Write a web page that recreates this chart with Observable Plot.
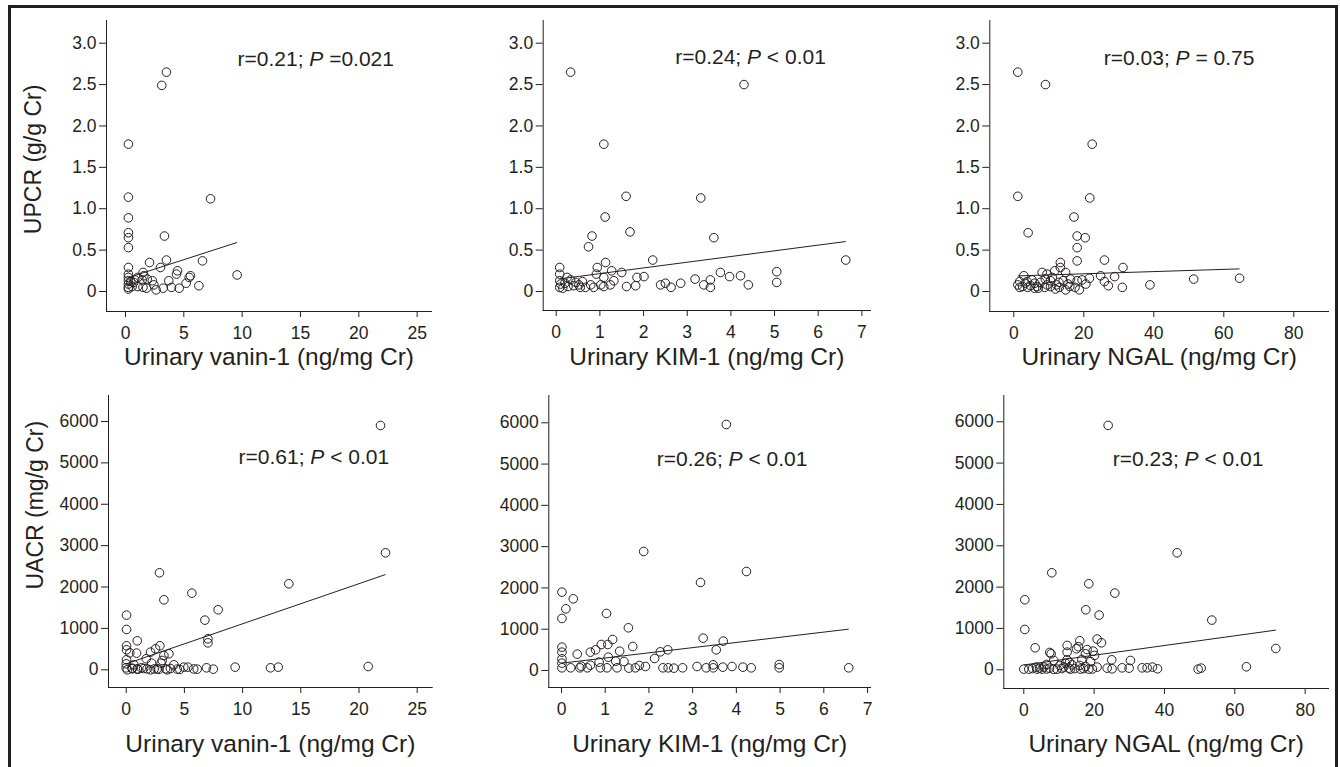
<!DOCTYPE html>
<html><head><meta charset="utf-8">
<script src="https://cdn.jsdelivr.net/npm/d3@7"></script>
<script src="https://cdn.jsdelivr.net/npm/@observablehq/plot@0.6"></script>
<style>
html,body{margin:0;padding:0;background:#fff;width:1340px;height:767px;overflow:hidden;}
#chart{position:relative;width:1340px;height:767px;}
#chart svg{position:absolute;left:0;top:0;}
#border{position:absolute;left:8px;top:5px;width:1324px;height:800px;border:3px solid #231f20;}
</style></head><body><div id="chart"><div id="border"></div></div>
<script>
// ---------- data ----------
const xLabels = ["Urinary vanin-1 (ng/mg Cr)", "Urinary KIM-1 (ng/mg Cr)", "Urinary NGAL (ng/mg Cr)"];
const yLabels = ["UPCR (g/g Cr)", "UACR (mg/g Cr)"];
const xTicksVanin = [0, 5, 10, 15, 20, 25];
const xTicksKim = [0, 1, 2, 3, 4, 5, 6, 7];
const xTicksNgal = [0, 20, 40, 60, 80];
const yTicksUpcr = [0, 0.5, 1.0, 1.5, 2.0, 2.5, 3.0];
const yTicksUacr = [0, 1000, 2000, 3000, 4000, 5000, 6000];

const annotPre = ["r=0.21; ", "r=0.24; ", "r=0.03; ", "r=0.61; ", "r=0.26; ", "r=0.23; "];
const annotPost = [" =0.021", " < 0.01", " = 0.75", " < 0.01", " < 0.01", " < 0.01"];

// regression lines (intercept, slope)
const fitA = [0.157, 0.147, 0.187, 143, 177, 117];
const fitB = [0.0455, 0.0689, 0.00134, 96.9, 125.5, 11.76];

// Panel 1: vanin-1 vs UPCR
const p1x = [3.51,3.11,0.25,0.25,7.29,0.25,0.25,0.25,0.25,3.34,0.25,2.06,3.0,3.51,6.6,4.46,4.37,9.57,1.51,1.57,0.25,0.25,0.25,0.25,0.25,0.25,1.06,1.43,1.86,0.57,1.06,1.8,2.43,2.63,3.23,3.71,3.94,4.6,5.2,5.46,5.57,6.29,0.71,0.45,0.8,2.3,1.5];
const p1y = [2.65,2.49,1.78,1.14,1.12,0.89,0.71,0.65,0.53,0.67,0.29,0.35,0.29,0.38,0.37,0.25,0.21,0.20,0.23,0.19,0.21,0.17,0.13,0.09,0.05,0.03,0.17,0.14,0.15,0.06,0.06,0.04,0.08,0.02,0.04,0.13,0.05,0.04,0.10,0.17,0.19,0.07,0.11,0.12,0.14,0.13,0.05];
// Panel 2: KIM-1 vs UPCR
const p2x = [0.33,4.30,1.09,1.60,3.31,1.12,1.69,0.82,0.74,3.61,2.21,6.63,1.13,0.08,0.94,1.27,1.50,0.08,0.92,1.09,3.76,5.05,5.05,3.97,4.22,4.40,3.18,3.53,3.38,3.53,2.85,2.50,2.39,2.63,2.01,1.85,1.82,1.61,1.32,1.24,1.09,0.86,0.67,0.52,0.60,0.33,0.25,0.40,0.27,0.08,0.08,0.10,1.02,0.79,0.15,0.45,0.20,0.55];
const p2y = [2.65,2.50,1.78,1.15,1.13,0.90,0.72,0.67,0.54,0.65,0.38,0.38,0.35,0.29,0.29,0.25,0.23,0.21,0.21,0.17,0.23,0.24,0.11,0.18,0.19,0.08,0.15,0.14,0.08,0.05,0.10,0.10,0.08,0.05,0.18,0.17,0.07,0.06,0.13,0.08,0.06,0.05,0.05,0.08,0.12,0.14,0.17,0.07,0.06,0.13,0.05,0.09,0.08,0.08,0.04,0.11,0.10,0.05];
// Panel 3: NGAL vs UPCR
const p3x = [1.14,9.05,22.4,1.14,21.7,17.2,4.1,18.1,20.4,18.1,18.1,25.9,13.3,31.2,13.3,8.1,2.86,11.7,14.8,9.5,24.8,28.8,21.6,51.4,64.5,25.9,27.0,31.0,38.9,20.6,18.7,14.8,16.0,18.1,16.2,14.1,12.2,10.5,8.8,6.7,5.2,4.8,3.3,1.7,1.14,1.7,7.6,9.0,11.0,12.9,11.9,4.0,5.9,2.5,3.8,6.0,7.0,9.5,10.5,13.0,15.5,17.5,19.5];
const p3y = [2.65,2.50,1.78,1.15,1.13,0.90,0.71,0.67,0.65,0.53,0.37,0.38,0.35,0.29,0.29,0.23,0.19,0.25,0.23,0.21,0.19,0.18,0.16,0.15,0.16,0.12,0.07,0.05,0.08,0.09,0.02,0.02,0.06,0.13,0.15,0.13,0.08,0.06,0.05,0.06,0.14,0.07,0.10,0.05,0.08,0.12,0.11,0.15,0.17,0.11,0.03,0.05,0.04,0.06,0.12,0.10,0.04,0.08,0.13,0.05,0.09,0.05,0.14];
// Panel 4: vanin-1 vs UACR
const p4x = [21.85,22.28,13.97,2.86,5.64,3.24,7.90,6.76,0.03,0.03,7.02,7.02,0.95,0.03,2.89,2.52,2.09,3.67,3.24,0.89,0.31,0.03,0.03,1.72,3.09,2.18,0.66,4.10,1.31,4.95,5.30,6.10,6.90,7.48,9.36,12.40,13.06,20.79,0.0,0.09,3.38,2.66,1.8,2.09,3.52,4.38,0.95,0.52,0.0,3.0,0.5,1.0,1.5,2.4,2.8,3.8,4.6,5.8];
const p4y = [5904,2827,2078,2344,1852,1691,1450,1200,1321,975,749,652,701,580,580,507,427,387,346,403,411,483,242,266,226,161,121,121,48,64,64,16,48,16,64,48,64,80,48,0,24,24,24,0,0,16,24,24,145,161,40,10,30,20,10,30,10,20];
// Panel 5: KIM-1 vs UACR
const p5x = [3.77,1.88,4.23,3.18,0.01,0.27,0.10,0.01,1.03,1.53,3.24,3.70,1.17,0.91,1.06,1.63,0.01,0.01,0.66,0.78,1.33,2.26,2.43,3.54,0.36,2.13,1.07,1.43,1.24,0.86,0.01,0.01,0.66,0.45,1.78,1.92,4.98,4.98,3.10,3.47,3.90,4.15,4.34,3.69,3.31,3.47,2.77,2.57,2.44,2.32,6.57,1.54,1.69,1.27,1.04,0.89,0.21,0.42,0.01,0.59];
const p5y = [5959,2883,2398,2132,1898,1736,1494,1260,1381,1034,783,711,751,630,630,581,565,444,444,501,468,452,501,501,396,291,323,218,226,202,283,178,129,105,121,97,145,65,97,137,97,81,65,81,65,65,65,57,65,65,65,57,65,65,65,65,65,65,65,65];
// Panel 6: NGAL vs UACR
const p6x = [23.98,43.6,7.96,18.48,25.88,0.28,17.63,21.42,53.46,0.28,20.85,22.09,15.92,12.32,14.98,3.22,71.66,7.39,7.77,12.32,17.54,19.72,20.1,8.53,12.32,10.24,25.0,30.33,20.85,23.7,25.1,27.96,29.95,33.65,35.07,36.59,38.0,49.57,50.43,63.3,0,1.42,3.79,5.21,7.30,9.48,13.27,16.11,18.48,15.92,17.54,13.74,11.85,3.6,5.69,11.37,2.5,4.5,6.5,8.5,10.8,12.8,14.5,17.0,19.5,15.5,18.0,16.5,13.0,19.0,6.5];
const p6y = [5912,2831,2347,2081,1855,1694,1452,1323,1202,976,742,653,702,589,508,532,516,419,387,427,387,452,347,226,242,105,242,226,65,40,24,48,40,48,48,65,24,16,40,73,16,16,16,16,40,16,16,16,16,105,81,121,161,65,65,65,30,40,20,10,30,40,30,30,20,560,490,250,180,200,130];

// ---------- layout / style ----------
const W = 1340, H = 767;
const FONT = "'Liberation Sans', Arial, Helvetica, sans-serif";
const INK = "#231f20";
const fmtUpcr = d => d === 0 ? "0" : d.toFixed(1);
const fmtUacr = d3.format("d");

const panels = [
  {xs:p1x, ys:p1y, frame:[106,431,20,311], xDomain:[-1.628,26.23], yDomain:[-0.2416,3.274], xTicks:xTicksVanin, yTicks:yTicksUpcr, yFmt:fmtUpcr, xLabel:xLabels[0], yLabel:yLabels[0], xLabelDy:46, yLabelDx:-72.7, yLabelDy:-6.6, ann:[131,39]},
  {xs:p2x, ys:p2y, frame:[542.7,870,20,310], xDomain:[-0.298,7.197], yDomain:[-0.2296,3.274], xTicks:xTicksKim, yTicks:yTicksUpcr, yFmt:fmtUpcr, xLabel:xLabels[1], xLabelDy:47, ann:[132,37]},
  {xs:p3x, ys:p3y, frame:[989.3,1328,20,311], xDomain:[-6.857,89.91], yDomain:[-0.2416,3.274], xTicks:xTicksNgal, yTicks:yTicksUpcr, yFmt:fmtUpcr, xLabel:xLabels[2], xLabelDy:46, ann:[114,38]},
  {xs:p4x, ys:p4y, frame:[108,431.7,395,687], xDomain:[-1.521,26.29], yDomain:[-427.7,6628], xTicks:xTicksVanin, yTicks:yTicksUacr, yFmt:fmtUacr, xLabel:xLabels[0], yLabel:yLabels[1], xLabelDy:57, yLabelDx:-73, yLabelDy:-36.3, ann:[130,62]},
  {xs:p5x, ys:p5y, frame:[548.3,870,395,687], xDomain:[-0.2905,7.068], yDomain:[-411.8,6661], xTicks:xTicksKim, yTicks:yTicksUacr, yFmt:fmtUacr, xLabel:xLabels[1], xLabelDy:57, ann:[108,64]},
  {xs:p6x, ys:p6y, frame:[1003.3,1328,395,688], xDomain:[-5.687,86.64], yDomain:[-452.4,6635], xTicks:xTicksNgal, yTicks:yTicksUacr, yFmt:fmtUacr, xLabel:xLabels[2], xLabelDy:56, ann:[109,64]}
];

const chart = document.getElementById("chart");

panels.forEach((cfg, i) => {
  const data = cfg.xs.map((x, k) => ({x, y: cfg.ys[k]}));
  const xmin = d3.min(cfg.xs), xmax = d3.max(cfg.xs);
  const fit = [{x1: xmin, y1: fitA[i] + fitB[i] * xmin, x2: xmax, y2: fitA[i] + fitB[i] * xmax}];
  const annText = annotPre[i] + "P" + annotPost[i];
  const marks = [
    Plot.frame({anchor: "left", stroke: INK, strokeWidth: 1}),
    Plot.frame({anchor: "bottom", stroke: INK, strokeWidth: 1}),
    Plot.axisX({ticks: cfg.xTicks, tickSize: 6, tickPadding: 9, fontSize: 17.5, label: null, tickFormat: d => String(d), stroke: INK, fill: INK}),
    Plot.axisY({ticks: cfg.yTicks, tickSize: 7, tickPadding: 3, fontSize: 17.5, label: null, tickFormat: cfg.yFmt, stroke: INK, fill: INK}),
    Plot.link(fit, {x1: "x1", y1: "y1", x2: "x2", y2: "y2", stroke: INK, strokeWidth: 1}),
    Plot.dot(data, {x: "x", y: "y", r: 4.3, stroke: INK, strokeWidth: 1, fill: "none"}),
    Plot.text([annText], {text: d => d, frameAnchor: "top-left", dx: cfg.ann[0], dy: cfg.ann[1], textAnchor: "start", lineAnchor: "middle", fontSize: 21, fill: INK}),
    Plot.text([cfg.xLabel], {text: d => d, frameAnchor: "bottom", dy: cfg.xLabelDy, textAnchor: "middle", lineAnchor: "middle", fontSize: 24.5, fill: INK})
  ];
  if (cfg.yLabel) {
    marks.push(Plot.text([cfg.yLabel], {text: d => d, frameAnchor: "left", rotate: -90, dx: cfg.yLabelDx, dy: cfg.yLabelDy, textAnchor: "middle", lineAnchor: "middle", fontSize: 23, fill: INK}));
  }
  const svg = Plot.plot({
    width: W, height: H,
    marginLeft: cfg.frame[0], marginRight: W - cfg.frame[1],
    marginTop: cfg.frame[2], marginBottom: H - cfg.frame[3],
    style: {background: "transparent", fontFamily: FONT, color: INK, overflow: "visible", maxWidth: "none"},
    x: {domain: cfg.xDomain},
    y: {domain: cfg.yDomain},
    marks
  });
  // italic "P" in the annotation
  svg.querySelectorAll("text").forEach(t => {
    if (t.textContent === annText) {
      t.textContent = "";
      t.setAttribute("style", "white-space: pre");
      const parts = [[annotPre[i], null], ["P", "italic"], [annotPost[i], null]];
      parts.forEach(([s, st]) => {
        const ts = document.createElementNS("http://www.w3.org/2000/svg", "tspan");
        ts.textContent = s;
        if (st) ts.setAttribute("font-style", st);
        t.appendChild(ts);
      });
    }
  });
  chart.appendChild(svg);
});
</script></body></html>
